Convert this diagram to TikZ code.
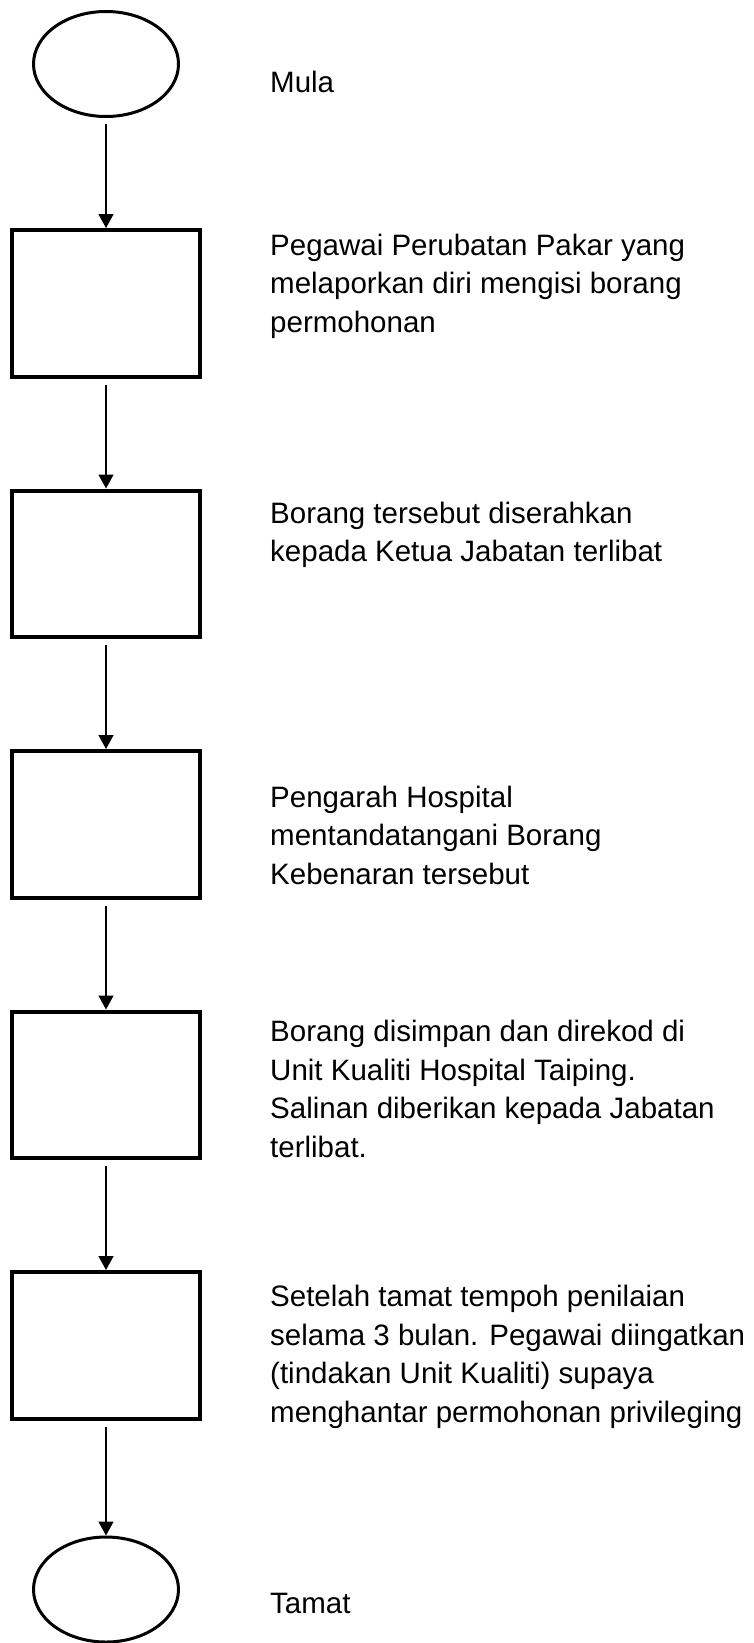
\documentclass[tikz,border=0pt]{standalone}
\usepackage{fontspec}
\setmainfont{Liberation Sans}
\usetikzlibrary{positioning,arrows.meta,shapes.geometric}
\tikzset{
    terminal/.style = {
        draw, ellipse,
        line width=3pt,
        minimum width=145pt,
        minimum height=105pt,
        },
    procbox/.style = {
        draw, rectangle,
        line width=4pt,
        minimum width=188pt,
        minimum height=146.5pt,
        },
    desc/.style = {
        anchor=west,
        inner sep=0pt,
        align=left,
        font=\fontsize{29.5}{38.5}\selectfont,
        },
    flow/.style = {
        line width=1.5pt,
        -{Triangle[length=14pt,width=15pt]},
        shorten <=6pt,
        },
}

\begin{document}
\begin{tikzpicture}[x=1pt,y=-1pt,node distance=110pt]
            \useasboundingbox (0,0) rectangle (753,1643);

            \node[terminal] (mula) at (106,64) {};
            \node[procbox, below=of mula] (b1) {};
            \node[procbox, below=of b1] (b2) {};
            \node[procbox, below=of b2] (b3) {};
            \node[procbox, below=of b3] (b4) {};
            \node[procbox, below=of b4] (b5) {};
            \node[terminal, below=115pt of b5] (tamat) {};

            \node[desc] (tmula) at (270,82) {Mula};
            \node[desc] (t1) at (270,286) {Pegawai Perubatan Pakar yang\\melaporkan diri mengisi borang\\permohonan};
            \node[desc] (t2) at (270,535) {Borang tersebut diserahkan\\kepada Ketua Jabatan terlibat};
            \node[desc] (t3) at (270,835) {Pengarah Hospital\\mentandatangani Borang\\Kebenaran tersebut};
            \node[desc] (t4) at (270,1089) {Borang disimpan dan direkod di\\Unit Kualiti Hospital Taiping.\\Salinan diberikan kepada Jabatan\\terlibat.};
            \node[desc] (t5) at (270,1357) {Setelah tamat tempoh penilaian\\selama 3 bulan. Pegawai diingatkan\\(tindakan Unit Kualiti) supaya\\menghantar permohonan privileging};
            \node[desc] (ttamat) at (270,1603) {Tamat};

            \draw[flow] (mula) -- (b1);
            \draw[flow] (b1) -- (b2);
            \draw[flow] (b2) -- (b3);
            \draw[flow] (b3) -- (b4);
            \draw[flow] (b4) -- (b5);
            \draw[flow] (b5) -- (tamat);
        \end{tikzpicture}
\end{document}
